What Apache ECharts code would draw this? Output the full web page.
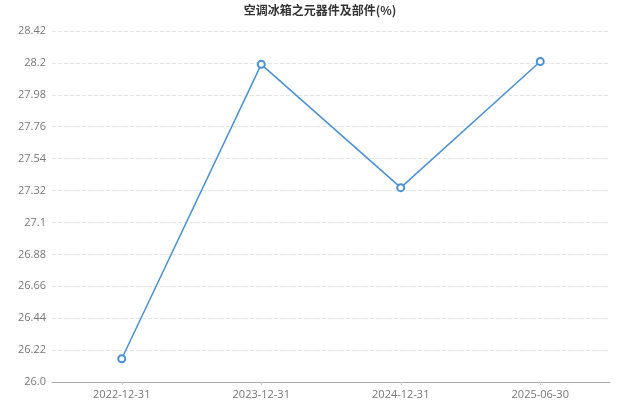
<!DOCTYPE html>
<html>
<head>
<meta charset="utf-8">
<script src="https://cdn.jsdelivr.net/npm/echarts@6/dist/echarts.min.js"></script>
<style>
  html, body { margin: 0; padding: 0; background: #fff; }
  #chart { width: 640px; height: 406px; }
</style>
</head>
<body>
<div id="chart"></div>
<script>
// Share of air-conditioner / refrigerator components (%)
const titleText = '空调冰箱之元器件及部件(%)';
const periods = ['2022-12-31', '2023-12-31', '2024-12-31', '2025-06-30'];
const shareValues = [26.16, 28.19, 27.34, 28.21];
const yMin = 26.0;
const yMax = 28.42;
const yStep = 0.22;

const chart = echarts.init(document.getElementById('chart'));
chart.setOption({
  animation: false,
  title: {
    text: titleText,
    left: 'center',
    top: -1,
    textStyle: {
      fontFamily: '"Noto Sans CJK SC", sans-serif',
      fontSize: 12,
      fontWeight: 'bold',
      color: '#333'
    }
  },
  grid: { left: 52, right: 30, top: 31, bottom: 24 },
  xAxis: {
    type: 'category',
    data: periods,
    boundaryGap: true,
    axisLine: { lineStyle: { color: '#aaa' } },
    axisTick: { show: true, alignWithLabel: true, length: 3, lineStyle: { color: '#ccc' } },
    axisLabel: { color: '#777', fontSize: 11, fontFamily: '"Open Sans", sans-serif', margin: 7 }
  },
  yAxis: {
    type: 'value',
    min: yMin,
    max: yMax,
    interval: yStep,
    axisLine: { show: false },
    axisTick: { show: false },
    axisLabel: {
      color: '#777',
      fontSize: 11,
      fontFamily: '"Open Sans", sans-serif',
      margin: 6,
      formatter: function (v) {
        const r = Math.round(v * 100) / 100;
        return Number.isInteger(r) ? r.toFixed(1) : String(r);
      }
    },
    splitLine: { lineStyle: { color: '#e6e6e6', type: 'dashed' } }
  },
  series: [{
    type: 'line',
    data: shareValues,
    symbol: 'circle',
    symbolSize: 7,
    itemStyle: { color: '#fff', borderColor: '#4a90d9', borderWidth: 2 },
    lineStyle: { color: '#4a90d9', width: 1.5 }
  }]
});
</script>
</body>
</html>
